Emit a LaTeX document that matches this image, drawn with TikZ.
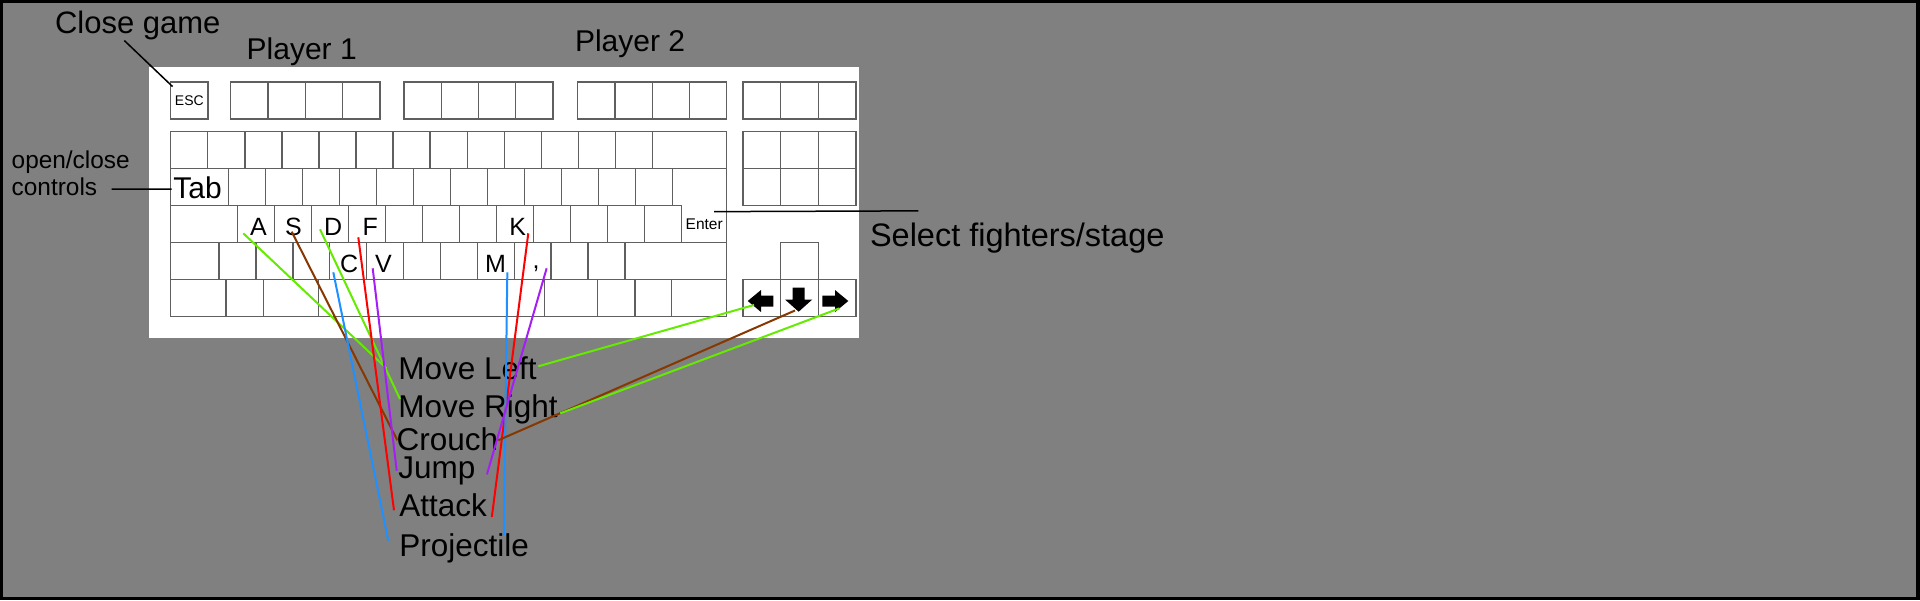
\documentclass[tikz,border=0pt]{standalone}
\usepackage{fontspec}
\setmainfont{Liberation Sans}
\usetikzlibrary{calc}
\definecolor{bggray}{RGB}{128,128,128}
\definecolor{keyline}{RGB}{95,95,95}
\definecolor{lgreen}{RGB}{100,235,0}
\definecolor{lred}{RGB}{255,0,0}
\definecolor{lbrown}{RGB}{135,55,0}
\definecolor{lblue}{RGB}{30,144,255}
\definecolor{lpurple}{RGB}{165,30,245}
\newcommand\myfs[1]{\fontsize{#1}{#1}\selectfont}
\newcommand\keyrow[3]{\foreach \xx [remember=\xx as \px (initially -1)] in {#3} {\ifdim\px pt>-0.5pt \draw[keyrect] (\px,#1) rectangle (\xx,#2);\fi}}
\begin{document}
\begin{tikzpicture}[x=1pt,y=-1pt,
  keyrect/.style={draw=keyline,line width=1.4pt},
  arrkey/.style={draw=keyline,line width=1.4pt,minimum height=37.4pt,inner sep=0pt,outer sep=0pt},
  lbl/.style={inner sep=0pt,outer sep=0pt,anchor=base west,text=black},
  keylbl/.style={inner sep=2pt,outer sep=0pt,anchor=base west,fill=white,text=black,font=\myfs{25}},
  conn/.style={line width=2pt},
  blk/.style={draw=black,line width=1.5pt}]
\useasboundingbox (0,0) rectangle (1920,600);
\fill[black] (0,0) rectangle (1920,600);
\fill[bggray] (3,3) rectangle (1916,597);
% keyboard
\fill[white] (149,67) rectangle (859,338);
% F row
\node[keyrect,minimum width=37.3pt,minimum height=37pt,inner sep=0pt,font=\myfs{14}] (esc) at (189.35,100.5) {ESC};
\keyrow{82}{119}{230.7,268,305.3,342.7,380}
\keyrow{82}{119}{404,441.25,478.5,515.75,553}
\keyrow{82}{119}{577.7,614.95,652.2,689.45,726.7}
\keyrow{82}{119}{743,780.7,818.3,856}
% number row
\keyrow{131.7}{168.3}{170.7,207.77,244.84,281.91,318.98,356.05,393.12,430.19,467.26,504.33,541.4,578.47,615.54,652.61,726.7}
% tab row
\keyrow{168.3}{205.5}{170.7,228.3,265.33,302.36,339.39,376.42,413.45,450.48,487.51,524.54,561.57,598.6,635.63,672.66}
% home row
\keyrow{205.5}{242.7}{170.7,237.3,274.33,311.36,348.39,385.42,422.45,459.48,496.51,533.54,570.57,607.6,644.63,681.66}
% enter
\draw[keyrect] (672.66,168.3) -- (726.7,168.3) -- (726.7,242.7) -- (681.66,242.7) -- (681.66,205.5) -- (672.66,205.5) -- cycle;
% shift row
\keyrow{242.7}{279.3}{170.7,219,255.91,292.82,329.73,366.64,403.55,440.46,477.37,514.28,551.19,588.1,625.0,726.7}
% bottom row
\keyrow{279.3}{316.7}{170.7,226,263.3,318.3,544.3,597.3,635,671.7,726.7}
% nav cluster
\keyrow{131.7}{168.3}{743,780.7,818.3,856}
\keyrow{168.3}{205.5}{743,780.7,818.3,856}
\draw[keyrect] (780.7,242.7) rectangle (818.3,279.3);
\node[arrkey,minimum width=37.7pt] (kLeft) at (761.85,298) {};
\node[arrkey,minimum width=37.6pt] (kDown) at (799.5,298) {};
\node[arrkey,minimum width=37.7pt] (kRight) at (837.15,298) {};
\fill[black] (747.7,301) -- (761,290) -- (761,295.5) -- (773.3,295.5) -- (773.3,306.5) -- (761,306.5) -- (761,312) -- cycle;
\fill[black] (798.65,311.7) -- (785,299.5) -- (792.65,299.5) -- (792.65,287.7) -- (804.65,287.7) -- (804.65,299.5) -- (812.3,299.5) -- cycle;
\fill[black] (848.3,301) -- (835,290) -- (835,295.5) -- (822.3,295.5) -- (822.3,306.5) -- (835,306.5) -- (835,312) -- cycle;
% key labels
\node[keylbl,font=\myfs{30}] (tab) at (171.3,198.3) {Tab};
\node[keylbl] (kA) at (248,235) {A};
\node[keylbl] (kS) at (283,235) {S};
\node[keylbl] (kD) at (322,235) {D};
\node[keylbl] (kF) at (360.7,235) {F};
\node[keylbl] (kK) at (507.3,235) {K};
\node[keylbl] (kC) at (338,272.3) {C};
\node[keylbl] (kV) at (373,272.3) {V};
\node[keylbl] (kM) at (483,272.3) {M};
\node[keylbl] (kcomma) at (530.7,268.5) {,};
\node[lbl,font=\myfs{15.5}] (enter) at (685.7,229) {Enter};
% outside labels
\node[lbl,font=\myfs{31}] (close) at (55,33.3) {Close game};
\node[lbl,font=\myfs{30}] (p1) at (246.7,59.3) {Player 1};
\node[lbl,font=\myfs{30}] (p2) at (575,51) {Player 2};
\node[lbl,font=\myfs{24.4}] (ctrl1) at (11.7,168.3) {open/close};
\node[lbl,font=\myfs{24.4}] (ctrl2) at (11.7,195) {controls};
\node[lbl,font=\myfs{32.5}] (select) at (870,246) {Select fighters/stage};
\node[lbl,font=\myfs{31.5}] (mleft) at (398.3,379.3) {Move Left};
\node[lbl,font=\myfs{31.5}] (mright) at (398.3,417.3) {Move Right};
\node[lbl,font=\myfs{31.5}] (crouch) at (396.7,450) {Crouch};
\node[lbl,font=\myfs{31.5}] (jump) at (398.3,478.3) {Jump};
\node[lbl,font=\myfs{31.5}] (attack) at (399.3,516.7) {Attack};
\node[lbl,font=\myfs{31.5}] (proj) at (399.3,556) {Projectile};
% black connectors
\draw[blk] ($(close.south)+(-13.4,0.8)$) -- ($(esc.north west)+(2.6,5.3)$);
\draw[blk] ($(ctrl2.east)+(14.6,2.9)$) -- ($(tab.west)+(0.4,1.6)$);
\draw[blk] ($(enter.north east)+(-8.7,-6.7)$) -- ($(select.north west)+(48.3,-11.6)$);
% colored connectors
\draw[conn,lgreen] ($(kA.base west)+(-4.7,-1.7)$) -- ($(mleft.west)+(-11.6,0.5)$);
\draw[conn,lbrown] ($(kS.base)+(-1.6,-3.3)$) -- ($(crouch.west)+(0.6,1.5)$);
\draw[conn,lgreen] ($(kD.base west)+(-2,-5.7)$) -- ($(mright.north west)+(1.7,4.6)$);
\draw[conn,lred] ($(kF.base west)+(-2.4,2.3)$) -- ($(attack.west)+(-5.3,4.8)$);
\draw[conn,lblue] ($(kC.base west)+(-4.7,0)$) -- ($(proj.north west)+(-11,7.6)$);
\draw[conn,lpurple] ($(kV.base west)+(-0.3,-4)$) -- ($(jump.west)+(-1.6,0)$);
\draw[conn,lred] ($(kK.base east)+(0.3,-1.7)$) -- ($(attack.south east)+(5,0)$);
\draw[conn,lblue] ($(kM.base east)+(-0.5,0)$) -- ($(proj.north east)+(-25,2)$);
\draw[conn,lpurple] ($(kcomma.base east)+(5,-0.2)$) -- ($(jump.east)+(11.6,3.7)$);
\draw[conn,lgreen] ($(kLeft.center)+(-7.85,7)$) -- ($(mleft.east)+(1.7,-1.8)$);
\draw[conn,lbrown] ($(kDown.center)+(-4.5,12.5)$) -- ($(crouch.east)+(0,1.5)$);
\draw[conn,lgreen] ($(kRight.center)+(2.35,10.3)$) -- ($(mright.east)+(2.6,4.15)$);
\end{tikzpicture}
\end{document}
